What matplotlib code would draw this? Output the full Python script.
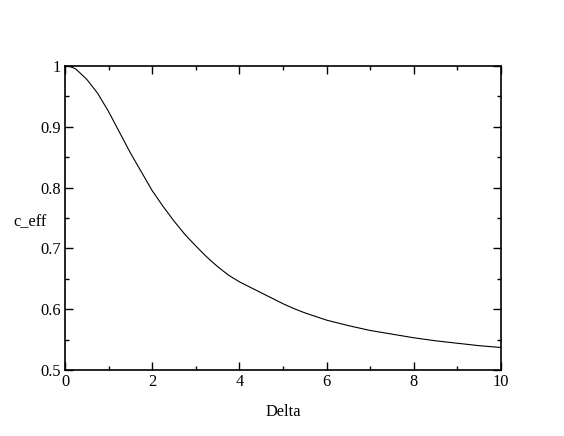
import matplotlib
matplotlib.use("Agg")
import matplotlib.pyplot as plt
from matplotlib.ticker import MultipleLocator

delta = [0.0, 0.125, 0.25, 0.5, 0.75, 1.0, 1.25, 1.5, 1.75, 2.0, 2.25, 2.5,
         2.75, 3.0, 3.25, 3.5, 3.75, 4.0, 4.25, 4.5, 4.75, 5.0, 5.25, 5.5,
         5.75, 6.0, 6.5, 7.0, 7.5, 8.0, 8.5, 9.0, 9.5, 10.0]
c_eff = [1.0, 0.999, 0.995, 0.978, 0.955, 0.925, 0.891, 0.857, 0.826, 0.795,
         0.769, 0.745, 0.723, 0.704, 0.686, 0.670, 0.656, 0.645, 0.636,
         0.627, 0.618, 0.609, 0.601, 0.594, 0.588, 0.582, 0.573, 0.565,
         0.559, 0.553, 0.548, 0.544, 0.540, 0.537]

plt.rcParams['font.family'] = ['Liberation Serif', 'DejaVu Serif']
fs = 11.8

fig = plt.figure(figsize=(5.64, 4.36), dpi=100)
ax = fig.add_axes([65/564, 66/436, 436/564, 304/436])

ax.plot(delta, c_eff, color='black', linewidth=0.8)

ax.set_xlim(0, 10)
ax.set_ylim(0.5, 1.0)
ax.xaxis.set_minor_locator(MultipleLocator(1))
ax.yaxis.set_minor_locator(MultipleLocator(0.05))
ax.set_xticks([0, 2, 4, 6, 8, 10])
ax.set_xticklabels(['0', '2', '4', '6', '8', '10'])
ax.set_yticks([0.5, 0.6, 0.7, 0.8, 0.9, 1.0])
ax.set_yticklabels(['0.5', '0.6', '0.7', '0.8', '0.9', '1'])

ax.tick_params(which='both', direction='in', top=True, right=True,
               labelsize=fs, width=1.0, colors='black')
ax.tick_params(which='major', length=5.8, pad=3)
ax.tick_params(which='minor', length=2.9)
for s in ax.spines.values():
    s.set_linewidth(1.2)

ax.set_xlabel('Delta', fontsize=fs, labelpad=10)
ax.set_ylabel('c_eff', fontsize=fs, rotation=0, ha='right', va='center')
ax.yaxis.set_label_coords(-0.041, 0.487)

fig.savefig('out.png', dpi=100)
